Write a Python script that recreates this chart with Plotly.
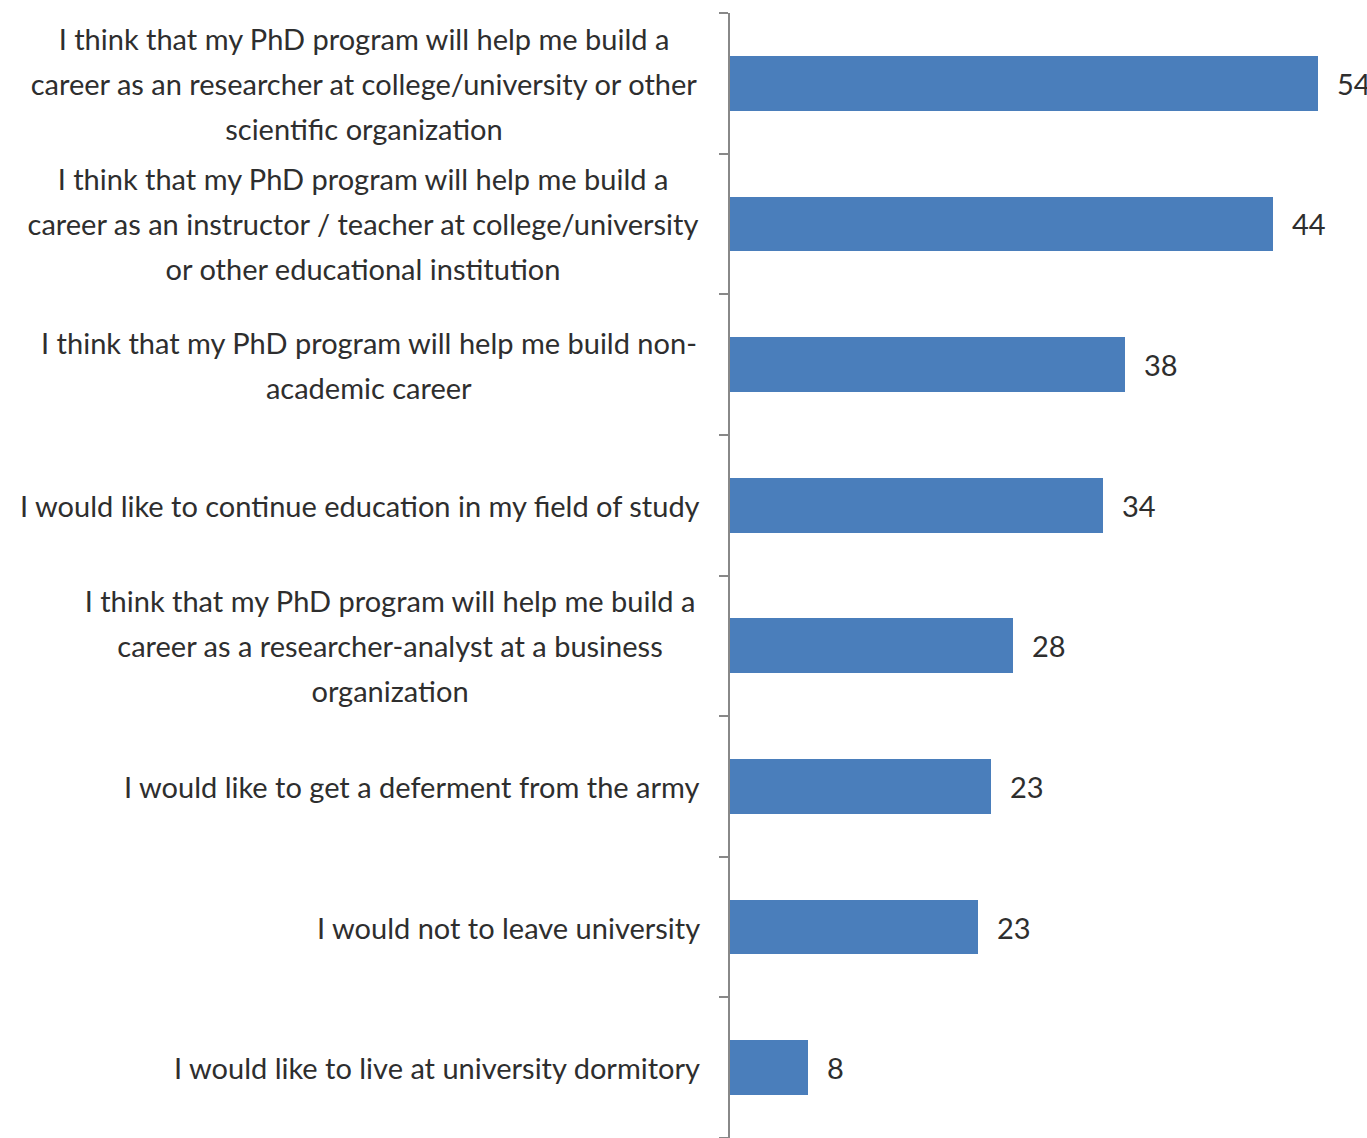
import plotly.graph_objects as go

# Data (top to bottom)
label_lines = [
    ["I think that my PhD program will help me build a",
     "career as an researcher at college/university or other",
     "scientific organization"],
    ["I think that my PhD program will help me build a",
     "career as an instructor / teacher at college/university",
     "or other educational institution"],
    ["I think that my PhD program will help me build non-",
     "academic career"],
    ["I would like to continue education in my field of study"],
    ["I think that my PhD program will help me build a",
     "career as a researcher-analyst at a business",
     "organization"],
    ["I would like to get a deferment from the army"],
    ["I would not to leave university"],
    ["I would like to live at university dormitory"],
]
bar_lengths = [54, 49.9, 36.3, 34.3, 26.0, 24.0, 22.8, 7.2]
value_labels = ["54", "44", "38", "34", "28", "23", "23", "8"]

cats = [" ".join(l) for l in label_lines]

FONT = "Lato, Open Sans, sans-serif"
TXT = "#2e2e2e"
FS = 29
BAR = "#4a7ebb"

W, H = 1367, 1138
L, T = 730, 13
plot_w = W - L
plot_h = H - T
LINE = 45

fig = go.Figure()
fig.add_trace(go.Bar(
    x=bar_lengths, y=cats, orientation="h",
    marker=dict(color=BAR, line=dict(width=0)),
    width=0.39, hoverinfo="skip",
))

annotations = []
# value labels
for c, v, t in zip(cats, bar_lengths, value_labels):
    annotations.append(dict(x=v, y=c, xref="x", yref="y", text=t,
                            showarrow=False, xanchor="left", xshift=17,
                            font=dict(family=FONT, size=FS, color=TXT)))

# category labels, line by line, centered as a block right-aligned at the axis
box_widths = [672, 674, 662, None, 620, None, None, None]
x_right = -28 / plot_w
for c, lines, bw in zip(cats, label_lines, box_widths):
    n = len(lines)
    for i, line in enumerate(lines):
        shift = -((i - (n - 1) / 2) * LINE)
        a = dict(x=x_right, y=c, xref="paper", yref="y", text=line,
                 showarrow=False, xanchor="right", yanchor="middle",
                 yshift=shift, font=dict(family=FONT, size=FS, color=TXT))
        if bw is not None:
            a["width"] = bw
            a["align"] = "center"
        annotations.append(a)

fig.update_layout(
    width=W, height=H,
    margin=dict(l=L, r=0, t=T, b=0, pad=0),
    paper_bgcolor="white", plot_bgcolor="white",
    showlegend=False,
    annotations=annotations,
    bargap=0,
    xaxis=dict(range=[0, plot_w / (588 / 54)], visible=False, fixedrange=True),
    yaxis=dict(
        type="category", categoryorder="array", categoryarray=cats[::-1],
        autorange=False, range=[-0.5, len(cats) - 0.5],
        showticklabels=False, showgrid=False, zeroline=False,
        showline=True, linecolor="#888888", linewidth=2,
        ticks="outside", tickson="boundaries", ticklen=9,
        tickcolor="#888888", tickwidth=2,
    ),
)

fig.write_html("out.html")
